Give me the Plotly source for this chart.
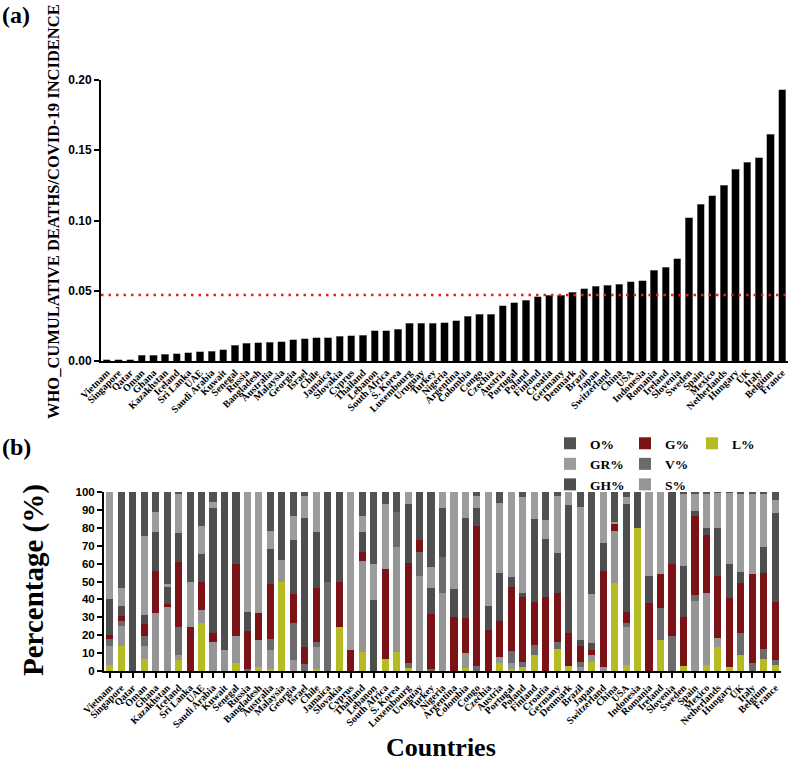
import plotly.graph_objects as go

countries = ["Vietnam", "Singapore", "Qatar", "Oman", "Ghana", "Kazakhstan", "Iceland", "Sri Lanka",
             "UAE", "Saudi Arabia", "Kuwait", "Senegal", "Russia", "Bangladesh", "Australia", "Malaysia",
             "Georgia", "Israel", "Chile", "Jamaica", "Slovakia", "Cyprus", "Thailand", "Lebanon",
             "South Africa", "S. Korea", "Luxembourg", "Uruguay", "Turkey", "Nigeria", "Argentina",
             "Colombia", "Congo", "Czechia", "Austria", "Portugal", "Poland", "Finland", "Croatia",
             "Germany", "Denmark", "Brazil", "Japan", "Switzerland", "China", "USA", "Indonesia",
             "Romania", "Ireland", "Slovenia", "Sweden", "Spain", "Mexico", "Netherlands", "Hungary",
             "UK", "Italy", "Belgium", "France"]

death_ratio = [0.0010, 0.0008, 0.0008, 0.0040, 0.0042, 0.0047, 0.0052, 0.0058, 0.0066, 0.0070,
               0.0079, 0.0112, 0.0128, 0.0131, 0.0135, 0.0138, 0.0152, 0.0159, 0.0164, 0.0165,
               0.0176, 0.0180, 0.0182, 0.0214, 0.0215, 0.0226, 0.0268, 0.0270, 0.0270, 0.0271,
               0.0287, 0.0320, 0.0332, 0.0334, 0.0392, 0.0415, 0.0432, 0.0458, 0.0467, 0.0468,
               0.0488, 0.0515, 0.0532, 0.0540, 0.0548, 0.0564, 0.0570, 0.0645, 0.0668, 0.0728,
               0.1020, 0.1115, 0.1175, 0.1252, 0.1365, 0.1414, 0.1445, 0.1613, 0.1932]

mean_line = 0.047

O_pct = [0, 53.7, 0, 24.6, 11.1, 51.4, 1, 50, 19, 5.5, 0, 0, 0, 0, 21.8, 0, 13.2, 2.2, 0, 0,
         0, 0, 13.2, 40.1, 6.9, 11.4, 0, 0, 41.8, 0, 0, 0, 2.2, 0, 6, 0, 2.6, 0, 15.6, 2.2,
         0, 8.2, 57, 0, 16.6, 2.6, 0, 0, 0, 0, 1, 1, 0.7, 0.5, 0.5, 1, 1, 1, 4.4]
GR_pct = [60, 10.2, 0, 44, 11, 1.5, 21.7, 25.2, 15.6, 3.5, 0, 0, 67, 67.4, 10, 0, 13.6, 12.5, 22.5, 0,
          0, 88, 9, 20.2, 36.1, 0, 6.9, 0, 12.1, 8.7, 54, 14.3, 6.5, 63.6, 39, 47.4, 53.8, 15, 10.8, 31.6,
          7.3, 74.5, 27.5, 28.7, 1.3, 4.3, 0, 46.7, 45.8, 0, 40.2, 9.4, 19.2, 19.4, 39.6, 43.9, 44.8, 30, 7.4]
GH_pct = [20, 5.6, 100, 5, 22.3, 9.7, 16.3, 0, 15.5, 70, 88.3, 40, 10.7, 0, 19.6, 37.8, 30.3, 72.1, 31.2, 50.3,
          50.3, 0, 11.2, 39.7, 0, 0, 32.8, 26.8, 14.3, 27.7, 15.6, 56.3, 10.3, 13.5, 27.1, 5.8, 2, 46.3, 32, 22.6,
          71.7, 3.3, 3.8, 15.5, 0, 59.9, 19.9, 15.5, 0, 40.1, 28.4, 3, 4.1, 26.8, 19.3, 6.1, 0, 14.4, 49.5]
G_pct = [2, 2.4, 0, 7.1, 23, 1.8, 36.2, 24.8, 15.9, 4.6, 0, 40.4, 21.3, 15.2, 30.9, 0, 16.3, 9.2, 29.9, 0,
         24.9, 12, 5, 0, 50.5, 0, 55.7, 6.5, 30.9, 0, 30.4, 19.6, 78.2, 22.9, 19.9, 35.8, 36.4, 24.2, 41.6, 27.2,
         18.2, 8.7, 2.7, 53.4, 3.9, 6.6, 0, 37.8, 18.8, 40.3, 27.6, 44.1, 32.2, 35, 38.2, 28, 49.6, 42.5, 32.6]
V_pct = [4, 3, 0, 5.2, 0, 0, 15.9, 0, 0, 0, 0, 0, 1, 0, 6, 0, 20.6, 4, 2.8, 49.7,
         0, 0, 0, 0, 0, 19.5, 3.1, 13.5, 0.9, 20, 0, 0, 2.8, 0, 0, 6.7, 2.8, 5.6, 0, 4.3,
         0, 3.3, 0, 0, 0, 1.8, 0, 0, 18.1, 19.6, 0, 3.2, 0, 0, 0, 12.1, 4.6, 5.6, 2.7]
S_pct = [10.6, 11, 0, 7.4, 32.6, 35.6, 2.8, 0, 7.4, 16.4, 11.7, 15.3, 0, 15, 10.8, 12.5, 6, 0, 12.7, 0,
         0, 0, 50.8, 0, 0, 58.3, 0, 53.2, 0, 43.6, 0, 8.3, 0, 0, 3.7, 3, 0, 0, 0, 0,
         0, 2, 3.7, 2.4, 29.1, 21.4, 0, 0, 0, 0, 0, 39.3, 40.4, 5, 0, 0, 0, 0, 0]
L_pct = [3.4, 14.1, 0, 6.7, 0, 0, 6.1, 0, 26.6, 0, 0, 4.3, 0, 2.4, 0.9, 49.7, 0, 0, 0.9, 0,
         24.8, 0, 10.8, 0, 6.5, 10.8, 1.5, 0, 0, 0, 0, 1.5, 0, 0, 4.3, 1.3, 2.4, 8.9, 0, 12.1,
         2.8, 0, 5.3, 0, 49.1, 3.4, 80.1, 0, 17.3, 0, 2.8, 0, 3.4, 13.3, 2.4, 8.9, 0, 6.5, 3.4]

W, H = 789, 761
SERIF = "Liberation Serif"
SANS = "Liberation Sans"

fig = go.Figure()

# Panel (a)
fig.add_trace(go.Bar(x=countries, y=death_ratio, xaxis="x", yaxis="y",
                     marker=dict(color="black", line=dict(color="#8a8a8a", width=0.6)),
                     showlegend=False))

# Panel (b) stacked, bottom to top
series = [
    ("L%", L_pct, "#b4bb23", "legend3", 1),
    ("S%", S_pct, "#959595", "legend2", 3),
    ("V%", V_pct, "#6b6b6b", "legend2", 2),
    ("G%", G_pct, "#7a1216", "legend2", 1),
    ("GH%", GH_pct, "#4e4e4e", "legend", 3),
    ("GR%", GR_pct, "#9c9c9c", "legend", 2),
    ("O%", O_pct, "#525252", "legend", 1),
]
for name, vals, col, lg, rank in series:
    fig.add_trace(go.Bar(x=countries, y=vals, name=name, xaxis="x2", yaxis="y2",
                         marker=dict(color=col, line=dict(width=0)),
                         legend=lg, legendrank=rank))

def px_x(p):
    return p / W

def px_y(p):
    return 1 - p / H

tick_sans = dict(family=SANS, size=12, color="black", weight="bold")
cat_font = dict(family=SERIF, size=10, color="black", weight="bold")
leg_font = dict(family=SERIF, size=13.5, color="black", weight="bold")

fig.update_layout(
    width=W, height=H,
    margin=dict(l=0, r=0, t=0, b=0, autoexpand=False),
    paper_bgcolor="white", plot_bgcolor="white",
    barmode="stack",
    bargap=0.38,
    xaxis=dict(domain=[px_x(101), px_x(788)], anchor="y", type="category",
               categoryorder="array", categoryarray=countries,
               tickmode="array", tickvals=countries, ticktext=countries,
               showline=True, linecolor="black", linewidth=2, ticks="",
               tickangle=-45, tickfont=cat_font, showgrid=False, zeroline=False, automargin=False),
    yaxis=dict(domain=[px_y(361), px_y(80)], anchor="x", range=[0, 0.2],
               tickvals=[0, 0.05, 0.10, 0.15, 0.20], ticktext=["0.00", "0.05", "0.10", "0.15", "0.20"],
               showline=True, linecolor="black", linewidth=2, ticks="outside", ticklen=5,
               tickwidth=2, tickcolor="black", tickfont=tick_sans, showgrid=False, zeroline=False,
               automargin=False),
    xaxis2=dict(domain=[px_x(104), px_x(781)], anchor="y2", type="category",
                categoryorder="array", categoryarray=countries,
                tickmode="array", tickvals=countries, ticktext=countries,
                showline=True, linecolor="black", linewidth=2, ticks="outside", ticklen=5,
                tickwidth=1.5, tickcolor="black",
                tickangle=-45, tickfont=cat_font, showgrid=False, zeroline=False, automargin=False),
    yaxis2=dict(domain=[px_y(671), px_y(492)], anchor="x2", range=[0, 100], dtick=10,
                showline=True, linecolor="black", linewidth=2, ticks="outside", ticklen=5,
                tickwidth=2, tickcolor="black", tickfont=dict(family=SANS, size=11.5, color="black", weight="bold"),
                showgrid=False, zeroline=False, automargin=False),
    legend=dict(x=px_x(550), y=px_y(428), xanchor="left", yanchor="top", bgcolor="rgba(0,0,0,0)",
                font=leg_font, tracegroupgap=0, traceorder="normal"),
    legend2=dict(x=px_x(625), y=px_y(428), xanchor="left", yanchor="top", bgcolor="rgba(0,0,0,0)",
                 font=leg_font, tracegroupgap=0, traceorder="normal"),
    legend3=dict(x=px_x(692), y=px_y(428), xanchor="left", yanchor="top", bgcolor="rgba(0,0,0,0)",
                 font=leg_font, tracegroupgap=0, traceorder="normal"),
)

fig.add_shape(type="line", xref="x domain", yref="y", x0=0, x1=1, y0=mean_line, y1=mean_line,
              line=dict(color="#e3202a", width=2.5, dash="2.5px,5px"))

ann_serif = lambda size: dict(family=SERIF, size=size, color="black", weight="bold")
fig.add_annotation(text="(a)", xref="paper", yref="paper", x=0, y=1, xanchor="left", yanchor="top",
                   showarrow=False, font=ann_serif(24))
fig.add_annotation(text="(b)", xref="paper", yref="paper", x=0, y=px_y(432), xanchor="left", yanchor="top",
                   showarrow=False, font=ann_serif(24))
fig.add_annotation(text="WHO_CUMULATIVE DEATHS/COVID-19 INCIDENCE", xref="paper", yref="paper",
                   x=px_x(54), y=px_y(212), xanchor="center", yanchor="middle", textangle=-90,
                   showarrow=False, font=ann_serif(16.5))
fig.add_annotation(text="Percentage (%)", xref="paper", yref="paper",
                   x=px_x(33), y=px_y(580), xanchor="center", yanchor="middle", textangle=-90,
                   showarrow=False, font=ann_serif(29))
fig.add_annotation(text="Countries", xref="paper", yref="paper",
                   x=px_x(441), y=px_y(747), xanchor="center", yanchor="middle",
                   showarrow=False, font=ann_serif(26))

fig.write_html("out.html", config={"displayModeBar": False},
               post_script="document.body.style.margin='0';document.body.style.overflow='hidden';")
